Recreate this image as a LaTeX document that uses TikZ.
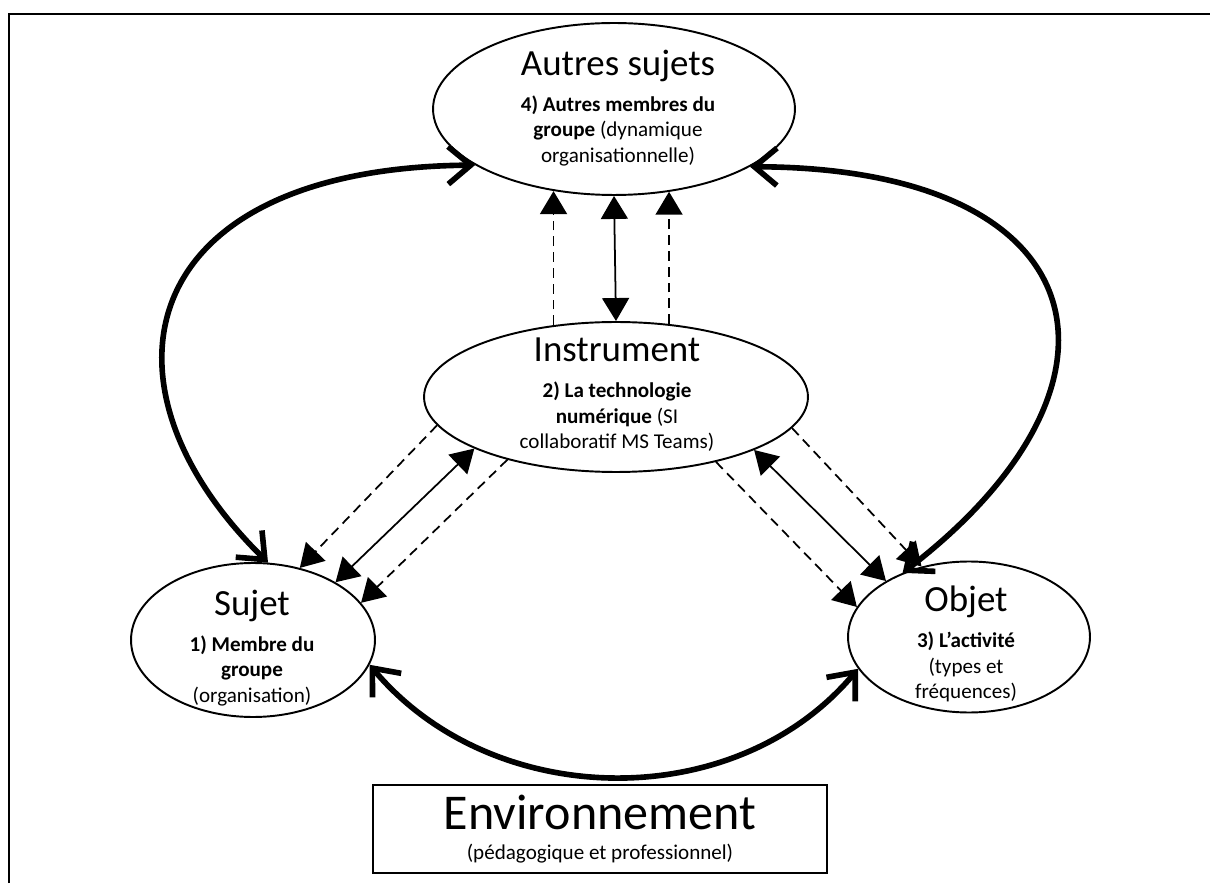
\documentclass[tikz,border=0pt]{standalone}
\usepackage{fontspec}
\setmainfont{Carlito}
\usetikzlibrary{shapes.geometric,arrows.meta}

\begin{document}
\begin{tikzpicture}[x=0.02cm,y=0.02cm,
    poste/.style={draw, ellipse, line width=1.1pt, inner sep=0pt},
    texte/.style={align=center, inner sep=0pt, font=\fontsize{12}{14.5}\selectfont},
    lien/.style={line width=3.2pt, line cap=round,
                 {Straight Barb[length=4.5mm,width=7.5mm]}-{Straight Barb[length=4.5mm,width=7.5mm]}},
    flux/.style={line width=1pt, {Triangle[length=4.6mm,width=5.4mm]}-{Triangle[length=4.6mm,width=5.4mm]}},
    retour/.style={line width=1pt, dash pattern=on 5.5pt off 3.5pt, -{Triangle[length=4.6mm,width=5.4mm]}}]

\useasboundingbox (0,0) rectangle (1210,883);

%% frame
\draw[line width=1.3pt] (9,0) -- (9,869) -- (1210,869);

%% poles
\node[poste, minimum width=7.24cm, minimum height=3.44cm] (autres) at (614,774) {};
\node[poste, minimum width=7.68cm, minimum height=3.0cm] (instrument) at (616,486) {};
\node[poste, minimum width=4.88cm, minimum height=3.08cm] (sujet) at (253,243) {};
\node[poste, minimum width=4.84cm, minimum height=3.02cm] (objet) at (969,246) {};

%% pole texts
\node[texte] (autresTxt) at (618,775)
  {{\fontsize{21}{25}\selectfont Autres sujets}\\[6pt]
   \textbf{4) Autres membres du}\\ \textbf{groupe} (dynamique\\ organisationnelle)};
\node[texte] (instrumentTxt) at (617,488)
  {{\fontsize{21}{25}\selectfont Instrument}\\[6pt]
   \textbf{2) La technologie}\\ \textbf{numérique} (SI\\ collaboratif MS Teams)};
\node[texte] (sujetTxt) at (252,235)
  {{\fontsize{21}{25}\selectfont Sujet}\\[6pt]
   \textbf{1) Membre du}\\ \textbf{groupe}\\ (organisation)};
\node[texte] (objetTxt) at (966,239)
  {{\fontsize{21}{25}\selectfont Objet}\\[6pt]
   \textbf{3) L’activité}\\ (types et\\ fréquences)};

%% environment
\node[draw, line width=1.1pt, minimum width=9.1cm, minimum height=1.76cm, align=center] (env) at (600,54)
  {{\fontsize{28.5}{32}\selectfont Environnement}\\[5pt]
   {\fontsize{12}{14}\selectfont (pédagogique et professionnel)}};

%% big links
\draw[lien] (autres.202) .. controls (135,715) and (85,500) .. (sujet.79);      %% autres-sujet
\draw[lien] (autres.337) .. controls (1100,715) and (1150,500) .. (objet.136);  %% autres-objet
\draw[lien] (sujet.348) to[out=-50, in=230] (objet.196);                        %% sujet-objet

%% instrument - autres
\draw[flux] (instrument.north) -- (autres.south);
\draw[retour] (instrument.131) -- (instrument.131 |- autres.234);
\draw[retour] (instrument.54) -- (instrument.54 |- autres.304);

%% instrument - sujet
\draw[flux] (instrument.200) -- (sujet.35);
\draw[retour] (instrument.189) -- (sujet.57);
\draw[retour] (instrument.210) -- (sujet.19);

%% instrument - objet
\draw[flux] (instrument.339) -- (objet.146);
\draw[retour] (instrument.350) -- (objet.124);
\draw[retour] (instrument.327) -- (objet.165);

\end{tikzpicture}
\end{document}
